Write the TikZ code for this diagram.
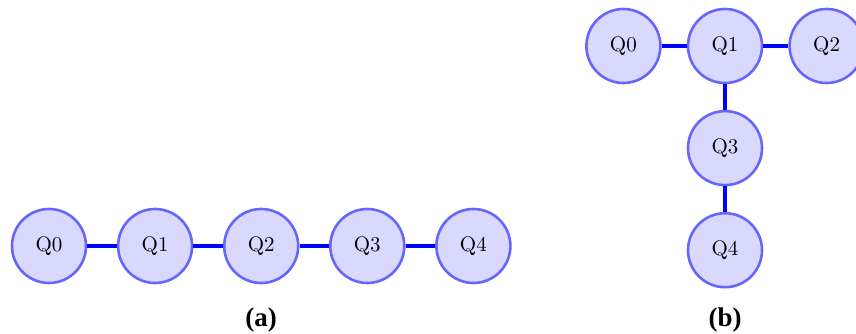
\documentclass[tikz,border=0pt]{standalone}
\usepackage{fontspec}
\newfontfamily\capfont{Liberation Serif}
\newfontfamily\qfont{lmroman10-regular.otf}
\usepackage{tikz}
\usetikzlibrary{positioning}

\begin{document}
\begin{tikzpicture}[
        x=1pt, y=-1pt,
        font=\qfont\fontsize{21}{23}\selectfont,
        qubit/.style ={circle, draw=blue!60, line width=2.6pt, fill=blue!15, minimum size=74pt, inner sep=0pt},
        link/.style  ={blue, line width=4.5pt},
        caption/.style={font=\capfont\bfseries\fontsize{27}{29}\selectfont},
    ]
        \useasboundingbox (0,0) rectangle (856,334);

        % --- (a) cadena lineal ---
        \node[qubit] (a0) at (49,246) {Q0};
        \node[qubit, right=29.5pt of a0] (a1) {Q1};
        \node[qubit, right=29.5pt of a1] (a2) {Q2};
        \node[qubit, right=29.5pt of a2] (a3) {Q3};
        \node[qubit, right=29.5pt of a3] (a4) {Q4};

        % --- (b) forma de T ---
        \node[qubit] (b1) at (725,46) {Q1};
        \node[qubit, left=25pt of b1] (b0) {Q0};
        \node[qubit, right=25pt of b1] (b2) {Q2};
        \node[qubit, below=25.5pt of b1] (b3) {Q3};
        \node[qubit, below=25.5pt of b3] (b4) {Q4};

        % --- Enlaces ---
        \draw[link] (a0) -- (a1);
        \draw[link] (a1) -- (a2);
        \draw[link] (a2) -- (a3);
        \draw[link] (a3) -- (a4);
        \draw[link] (b0) -- (b1);
        \draw[link] (b1) -- (b2);
        \draw[link] (b1) -- (b3);
        \draw[link] (b3) -- (b4);

        % --- Etiquetas ---
        \node[caption] (capa) at (261,320) {(a)};
        \node[caption] (capb) at (725,320) {(b)};
    \end{tikzpicture}
\end{document}
